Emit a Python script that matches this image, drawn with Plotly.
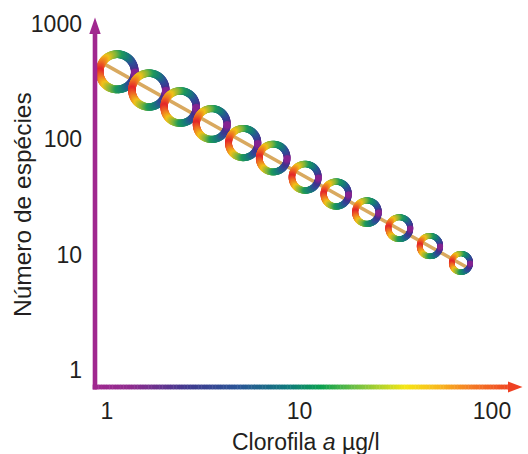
import numpy as np
import plotly.graph_objects as go

# ---------------- data ----------------
chlorophyll = [1.13, 1.65, 2.4, 3.5, 5.1, 7.3, 10.7, 15.5, 22.4, 33, 47.6, 69]
species = [386, 268, 191, 136, 93, 69, 47, 33.6, 23.4, 17, 11.9, 8.5]
trend_x = [0.95, 74]
trend_y = [459, 7.8]
x_ticks = [1, 10, 100]
x_ticklabels = ["1", "10", "100"]
y_ticks = [1, 10, 100, 1000]
y_ticklabels = ["1", "10", "100", "1000"]
x_title = "Clorofila <i>a</i> µg/l"
y_title = "Número de espécies"

# ---------------- style ----------------
W, H = 528, 454
L, R, T, B = 95, 5, 18, 67
PW, PH = W - L - R, H - T - B
XR = [-0.0623, 2.161]
YR = [-0.147, 3.053]
ppd_x = PW / (XR[1] - XR[0])
ppd_y = PH / (YR[1] - YR[0])

ring_outer = [21.5, 20.7, 19.8, 19.0, 18.1, 17.3, 16.5, 15.6, 14.8, 13.9, 13.1, 12.0]

ring_stops = [(0, '#e4252c'), (0.12, '#ee6a24'), (0.27, '#f2c21a'), (0.42, '#7db53c'),
              (0.52, '#1f9a5c'), (0.65, '#177c7a'), (0.78, '#2e4f98'), (0.9, '#45318f'),
              (1.0, '#8f2192')]
axis_stops = [(93, '#a0278f'), (130, '#8f2c8e'), (188, '#3f3a8f'), (238, '#2b5597'),
              (288, '#0f7a7c'), (321, '#0aa04f'), (355, '#6dbf45'), (405, '#f5e614'),
              (438, '#f8b91e'), (471, '#f47b25'), (512, '#ef4423')]
purple = '#a0278f'
arrow_red = '#ef4123'
text_color = '#231f20'
font_family = "Liberation Sans, Arial, sans-serif"


def hex2rgb(h):
    h = h.lstrip('#')
    return np.array([int(h[i:i + 2], 16) for i in (0, 2, 4)], float)


def interp(stops, t):
    ps = [s[0] for s in stops]
    cs = [hex2rgb(s[1]) for s in stops]
    t = min(max(t, ps[0]), ps[-1])
    for i in range(len(ps) - 1):
        if ps[i] <= t <= ps[i + 1]:
            f = (t - ps[i]) / (ps[i + 1] - ps[i]) if ps[i + 1] > ps[i] else 0
            c = cs[i] * (1 - f) + cs[i + 1] * f
            return 'rgb(%d,%d,%d)' % tuple(np.round(c))
    return stops[-1][1]


fig = go.Figure()

# trend line
fig.add_trace(go.Scatter(x=trend_x, y=trend_y, mode='lines',
                         line=dict(color='#d9a95f', width=3.5),
                         hoverinfo='skip', showlegend=False))

# rainbow rings built around each data point (pixel-circular on log axes)
rx, ry, rc, rs = [], [], [], []
N = 200
for xv, yv, ro in zip(chlorophyll, species, ring_outer):
    thick = 2.4 + 0.25 * ro
    rm = ro - thick / 2
    for k in range(N):
        th = 2 * np.pi * k / N  # 0 = east
        dx = rm * np.cos(th)
        dy = rm * np.sin(th)
        rx.append(10 ** (np.log10(xv) + dx / ppd_x))
        ry.append(10 ** (np.log10(yv) + dy / ppd_y))
        ang_from_east = np.pi - abs(np.pi - th)
        t = 1 - ang_from_east / np.pi  # 0 at west, 1 at east
        rc.append(interp(ring_stops, t))
        rs.append(thick)
fig.add_trace(go.Scatter(x=rx, y=ry, mode='markers',
                         marker=dict(color=rc, size=rs, line=dict(width=0)),
                         hoverinfo='skip', showlegend=False))


def pxx(p):
    return (p - L) / PW


def pxy(p):
    return (T + PH - p) / PH


shapes = []
# y axis line
shapes.append(dict(type='rect', xref='paper', yref='paper',
                   x0=pxx(92.7), x1=pxx(97.3), y0=pxy(389.4), y1=pxy(32),
                   fillcolor=purple, line=dict(width=0), layer='above'))
shapes.append(dict(type='path', xref='paper', yref='paper',
                   path='M %f,%f L %f,%f L %f,%f Z' % (pxx(95), pxy(17.5), pxx(89.3), pxy(34),
                                                     pxx(100.7), pxy(34)),
                   fillcolor=purple, line=dict(width=0), layer='above'))
# x axis gradient line
segs = 150
x_start, x_end = 92.7, 510
for i in range(segs):
    a = x_start + (x_end - x_start) * i / segs
    b = x_start + (x_end - x_start) * (i + 1) / segs
    col = interp(axis_stops, (a + b) / 2)
    shapes.append(dict(type='rect', xref='paper', yref='paper',
                       x0=pxx(a), x1=pxx(b + 0.4), y0=pxy(389.4), y1=pxy(384.6),
                       fillcolor=col, line=dict(width=0), layer='above'))
shapes.append(dict(type='path', xref='paper', yref='paper',
                   path='M %f,%f L %f,%f L %f,%f Z' % (pxx(522.5), pxy(387), pxx(508), pxy(381.5),
                                                     pxx(508), pxy(392.5)),
                   fillcolor=arrow_red, line=dict(width=0), layer='above'))

annotations = [
    dict(text=y_title, xref='paper', yref='paper', x=pxx(22), y=pxy(205),
         xanchor='center', yanchor='middle', textangle=-90, showarrow=False,
         font=dict(family=font_family, size=24.5, color=text_color)),
    dict(text=x_title, xref='paper', yref='paper', x=pxx(306), y=pxy(442),
         xanchor='center', yanchor='middle', showarrow=False,
         font=dict(family=font_family, size=23, color=text_color)),
]

fig.update_layout(
    width=W, height=H,
    margin=dict(l=L, r=R, t=T, b=B, pad=0),
    paper_bgcolor='white', plot_bgcolor='white',
    showlegend=False,
    shapes=shapes, annotations=annotations,
    font=dict(family=font_family, size=23, color=text_color),
    xaxis=dict(type='log', range=XR, showgrid=False, zeroline=False, showline=False,
               tickmode='array', tickvals=x_ticks, ticktext=x_ticklabels, ticks='',
               ticklabelstandoff=8, fixedrange=True),
    yaxis=dict(type='log', range=YR, showgrid=False, zeroline=False, showline=False,
               tickmode='array', tickvals=y_ticks, ticktext=y_ticklabels, ticks='',
               ticklabelstandoff=12, fixedrange=True),
)

fig.write_html("out.html", config={'displayModeBar': False},
               post_script="document.body.style.margin='0';document.body.style.padding='0';")
